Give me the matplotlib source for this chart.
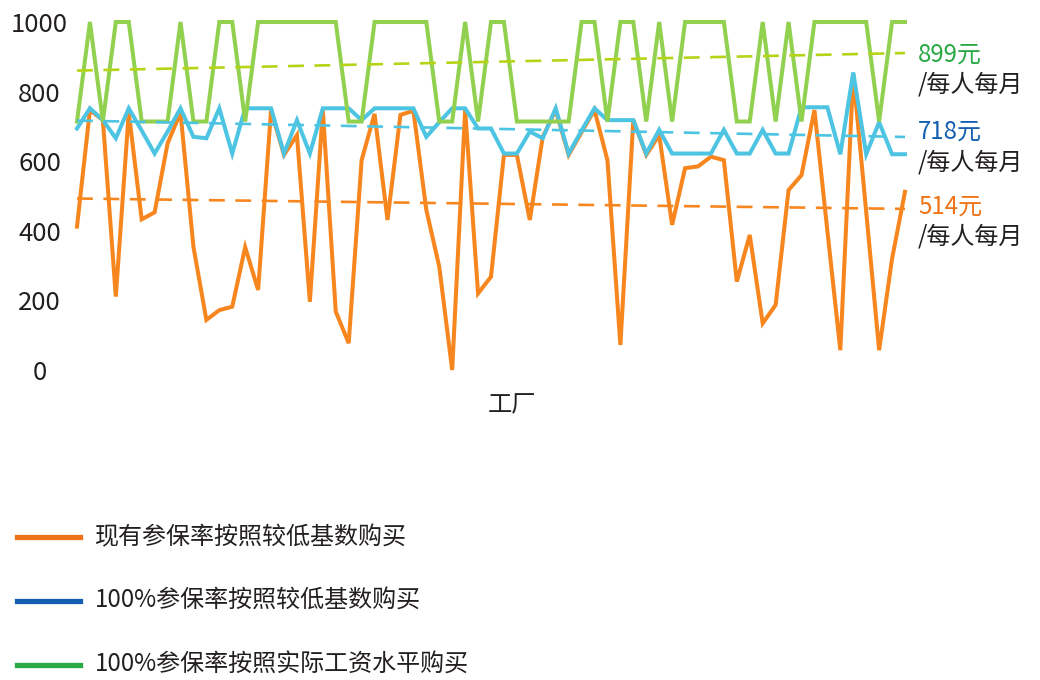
import matplotlib
matplotlib.use("Agg")
import matplotlib.pyplot as plt
from matplotlib.lines import Line2D
import numpy as np

plt.rcParams['font.family'] = ['Noto Sans CJK SC', 'DejaVu Sans']

# ---- data ----
current_low = [412, 747, 718, 211, 740, 433, 453, 651, 740, 354,
               144, 172, 182, 353, 230, 747, 618, 675, 196, 747,
               168, 77, 603, 736, 431, 733, 745, 460, 297, 0,
               747, 220, 268, 618, 618, 431, 670, 747, 618, 683,
               747, 603, 72, 718, 618, 675, 417, 580, 585, 613,
               603, 254, 388, 134, 187, 517, 560, 747, 400, 57,
               850, 455, 57, 320, 512]
full_low = [694, 752, 718, 666, 752, 688, 622, 685, 752, 670,
            666, 752, 622, 752, 752, 752, 622, 718, 622, 752,
            752, 752, 718, 752, 752, 752, 752, 670, 712, 752,
            752, 694, 694, 622, 622, 685, 666, 752, 622, 688,
            752, 718, 718, 718, 622, 690, 622, 622, 622, 622,
            690, 622, 622, 690, 622, 622, 755, 755, 755, 620,
            855, 620, 712, 620, 620]
full_actual = [714, 1000, 714, 1000, 1000, 714, 714, 714, 1000, 714,
               714, 1000, 1000, 714, 1000, 1000, 1000, 1000, 1000, 1000,
               1000, 714, 714, 1000, 1000, 1000, 1000, 1000, 714, 714,
               1000, 714, 1000, 1000, 714, 714, 714, 714, 714, 1000,
               1000, 714, 1000, 1000, 714, 1000, 714, 1000, 1000, 1000,
               1000, 714, 714, 1000, 714, 1000, 714, 1000, 1000, 1000,
               1000, 1000, 714, 1000, 1000]
y_ticks = [0, 200, 400, 600, 800, 1000]
x_label = "工厂"
legend_labels = ["现有参保率按照较低基数购买",
                 "100%参保率按照较低基数购买",
                 "100%参保率按照实际工资水平购买"]
avg_values = ["514元", "718元", "899元"]
per_text = "/每人每月"

# ---- styles ----
line_cols = ["#f7861f", "#4dc4e2", "#92d050"]
trend_cols = ["#f7861f", "#4dc4e2", "#b5d416"]
legend_cols = ["#ef7316", "#155fb0", "#29a846"]
text_col = "#231f20"

W, H = 1040, 680
fig = plt.figure(figsize=(W / 100, H / 100), dpi=100)
ax = fig.add_axes([77 / W, 1 - 370 / H, (905 - 77) / W, (370 - 22) / H])

series = [current_low, full_low, full_actual]
x = np.arange(len(current_low))
for s, lc in zip(series, line_cols):
    y = np.array(s, dtype=float)
    ax.plot(x, y, color=lc, lw=2.9, clip_on=False, solid_joinstyle='miter', zorder=3)
# trend lines (linear fit of each series)
for s, tc in zip(series, trend_cols):
    y = np.array(s, dtype=float)
    k, b = np.polyfit(x, y, 1)
    ax.plot(x, k * x + b, color=tc, lw=1.9, ls=(0, (6, 4)), clip_on=False, zorder=4)

ax.set_xlim(0, len(current_low) - 1)
ax.set_ylim(0, 1000)
for sp in ax.spines.values():
    sp.set_visible(False)
ax.set_xticks([])
ax.set_yticks(y_ticks)
ax.set_yticklabels([str(t) for t in y_ticks], fontsize=18.5, color=text_col, ha='center')
ax.tick_params(axis='y', length=0, pad=27)

fig.text(512 / W, 1 - 405 / H, x_label, fontsize=17.5, color=text_col, ha='center', va='center')

# right-side annotations
ann_y = [(207, 236), (132, 162), (55, 84)]
for (y1, y2), val, col in zip(ann_y, avg_values, legend_cols):
    fig.text(918 / W, 1 - y1 / H, val, fontsize=17.3, color=col, ha='left', va='center')
    fig.text(918 / W, 1 - y2 / H, per_text, fontsize=17.3, color=text_col, ha='left', va='center')

# legend
for i, (lab, col) in enumerate(zip(legend_labels, legend_cols)):
    yy = 1 - (537 + 64 * i) / H
    fig.add_artist(Line2D([17 / W, 80 / W], [yy, yy], color=col, lw=3.8,
                          transform=fig.transFigure))
    fig.text(95 / W, yy, lab, fontsize=17.3, color=text_col, ha='left', va='center')

fig.savefig("out.png", dpi=100)
